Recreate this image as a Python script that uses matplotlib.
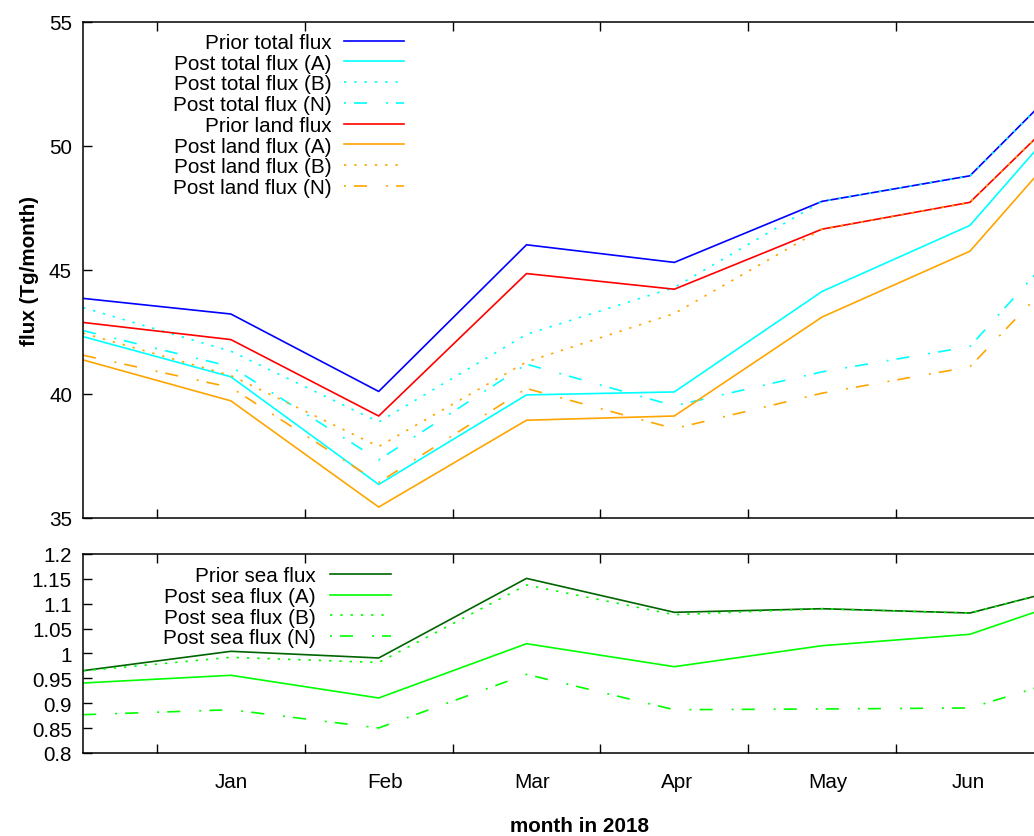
import matplotlib
matplotlib.use('Agg')
import matplotlib.pyplot as plt
from matplotlib.lines import Line2D
from matplotlib.ticker import FixedLocator, FixedFormatter, NullFormatter, FuncFormatter

# ---------------- data ----------------
# data points at mid-month: Dec 2017, Jan..Jun 2018, Jul 2018 (x = month index, Jan 1 = 0)
point_months = ['Dec', 'Jan', 'Feb', 'Mar', 'Apr', 'May', 'Jun', 'Jul']
point_x = [-0.5, 0.5, 1.5, 2.5, 3.5, 4.5, 5.5, 6.5]

prior_total = [43.85, 43.22, 40.10, 46.01, 45.30, 47.76, 48.79, 54.76]
post_total_A = [42.31, 40.69, 36.35, 39.96, 40.08, 44.13, 46.79, 53.60]
post_total_B = [43.48, 41.72, 38.87, 42.40, 44.29, 47.76, 48.79, 54.76]
post_total_N = [42.55, 41.10, 37.34, 41.20, 39.52, 40.89, 41.91, 48.50]
prior_land = [42.88, 42.19, 39.11, 44.85, 44.22, 46.64, 47.72, 53.53]
post_land_A = [41.37, 39.72, 35.44, 38.94, 39.11, 43.10, 45.75, 52.53]
post_land_B = [42.45, 40.74, 37.88, 41.29, 43.24, 46.64, 47.72, 53.53]
post_land_N = [41.56, 40.26, 36.43, 40.22, 38.60, 40.03, 41.09, 47.34]

prior_sea = [0.9655, 1.0044, 0.9910, 1.1510, 1.0828, 1.0900, 1.0814, 1.1580]
post_sea_A = [0.9407, 0.9562, 0.9106, 1.0197, 0.9735, 1.0157, 1.0386, 1.1397]
post_sea_B = [0.9650, 0.9923, 0.9820, 1.1377, 1.0780, 1.0900, 1.0810, 1.1580]
post_sea_N = [0.8770, 0.8870, 0.8503, 0.9580, 0.8870, 0.8885, 0.8905, 0.9810]

tick_month_labels = ['Jan', 'Feb', 'Mar', 'Apr', 'May', 'Jun']
top_yticks = [35, 40, 45, 50, 55]
bottom_yticks = [0.8, 0.85, 0.9, 0.95, 1.0, 1.05, 1.1, 1.15, 1.2]

# ---------------- style ----------------
plt.rcParams['font.family'] = ['Liberation Sans', 'DejaVu Sans']
plt.rcParams['lines.scale_dashes'] = False

W, H, DPI = 1034, 837, 100
FS = 14.85
LW = 1.2
STY = {
    'solid': '-',
    'dot': (0, (1.7, 5.7)),
    'dashdot': (0, (9.4, 13.7, 1.4, 5.8)),
}
STY_LEG = {
    'solid': '-',
    'dot': (0, (1.7, 5.7)),
    'dashdot': (23.1, (9.4, 13.7, 1.4, 5.8)),
}
# small horizontal nudges (in months) of the month labels, as in the original layout
LABEL_NUDGE = [0.0, 0.04, 0.04, 0.02, 0.04, -0.01]

fig = plt.figure(figsize=(W / DPI, H / DPI), dpi=DPI)


def fx(px):
    return px / W


def fy(py):
    return 1 - py / H


L, R = 83, 1077
T1, B1 = 22.7, 519
T2, B2 = 555, 754
ax1 = fig.add_axes([fx(L), fy(B1), (R - L) / W, (B1 - T1) / H])
ax2 = fig.add_axes([fx(L), fy(B2), (R - L) / W, (B2 - T2) / H])

top_series = [
    ('Prior total flux', prior_total, 'blue', 'solid'),
    ('Post total flux (A)', post_total_A, 'cyan', 'solid'),
    ('Post total flux (B)', post_total_B, 'cyan', 'dot'),
    ('Post total flux (N)', post_total_N, 'cyan', 'dashdot'),
    ('Prior land flux', prior_land, 'red', 'solid'),
    ('Post land flux (A)', post_land_A, 'orange', 'solid'),
    ('Post land flux (B)', post_land_B, 'orange', 'dot'),
    ('Post land flux (N)', post_land_N, 'orange', 'dashdot'),
]
bottom_series = [
    ('Prior sea flux', prior_sea, '#006400', 'solid'),
    ('Post sea flux (A)', post_sea_A, '#00ff00', 'solid'),
    ('Post sea flux (B)', post_sea_B, '#00ff00', 'dot'),
    ('Post sea flux (N)', post_sea_N, '#00ff00', 'dashdot'),
]

for label, vals, c, s in top_series:
    ax1.plot(point_x, vals, color=c, linestyle=STY[s], lw=LW)
for label, vals, c, s in bottom_series:
    ax2.plot(point_x, vals, color=c, linestyle=STY[s], lw=LW)

xl = ((L - 157) / 147.8, (R - 157) / 147.8)
for ax in (ax1, ax2):
    ax.set_xlim(*xl)
    ax.xaxis.set_major_locator(FixedLocator(list(range(0, 7))))
    ax.xaxis.set_major_formatter(NullFormatter())
    ax.tick_params(which='major', direction='in', length=6.5, width=1.0,
                   top=True, bottom=True, left=True, right=False,
                   labelsize=FS, pad=8)
    for sp in ax.spines.values():
        sp.set_linewidth(1.1)

ax1.set_ylim(35, 55)
ax1.set_yticks(top_yticks)
ax2.set_ylim(0.8, 1.2)
ax2.set_yticks(bottom_yticks)
ax2.yaxis.set_major_formatter(FuncFormatter(lambda v, p: '%g' % round(v, 3)))

ax2.xaxis.set_minor_locator(FixedLocator([i + 0.5 + LABEL_NUDGE[i] for i in range(len(tick_month_labels))]))
ax2.xaxis.set_minor_formatter(FixedFormatter(tick_month_labels))
ax2.tick_params(axis='x', which='minor', length=0, labelsize=FS, pad=14)

ax1.set_ylabel('flux (Tg/month)', fontsize=FS, fontweight='bold', labelpad=7)
ax2.set_xlabel('month in 2018', fontsize=FS, fontweight='bold', labelpad=17.5)


def draw_legend(entries, text_right, h0, h1, y0, dy):
    em = FS * DPI / 72.0
    for i, (label, vals, c, s) in enumerate(entries):
        y = y0 + i * dy
        fig.text(fx(text_right), fy(y + 0.358 * em), label, ha='right',
                 va='baseline', fontsize=FS)
        ln = Line2D([fx(h0), fx(h1)], [fy(y), fy(y)], transform=fig.transFigure,
                    color=c, linestyle=STY_LEG[s], lw=LW)
        fig.add_artist(ln)


draw_legend(top_series, 332, 344, 404, 41.7, 20.7)
draw_legend(bottom_series, 316, 330, 391, 575, 20.6)

fig.savefig('out.png', dpi=DPI)
